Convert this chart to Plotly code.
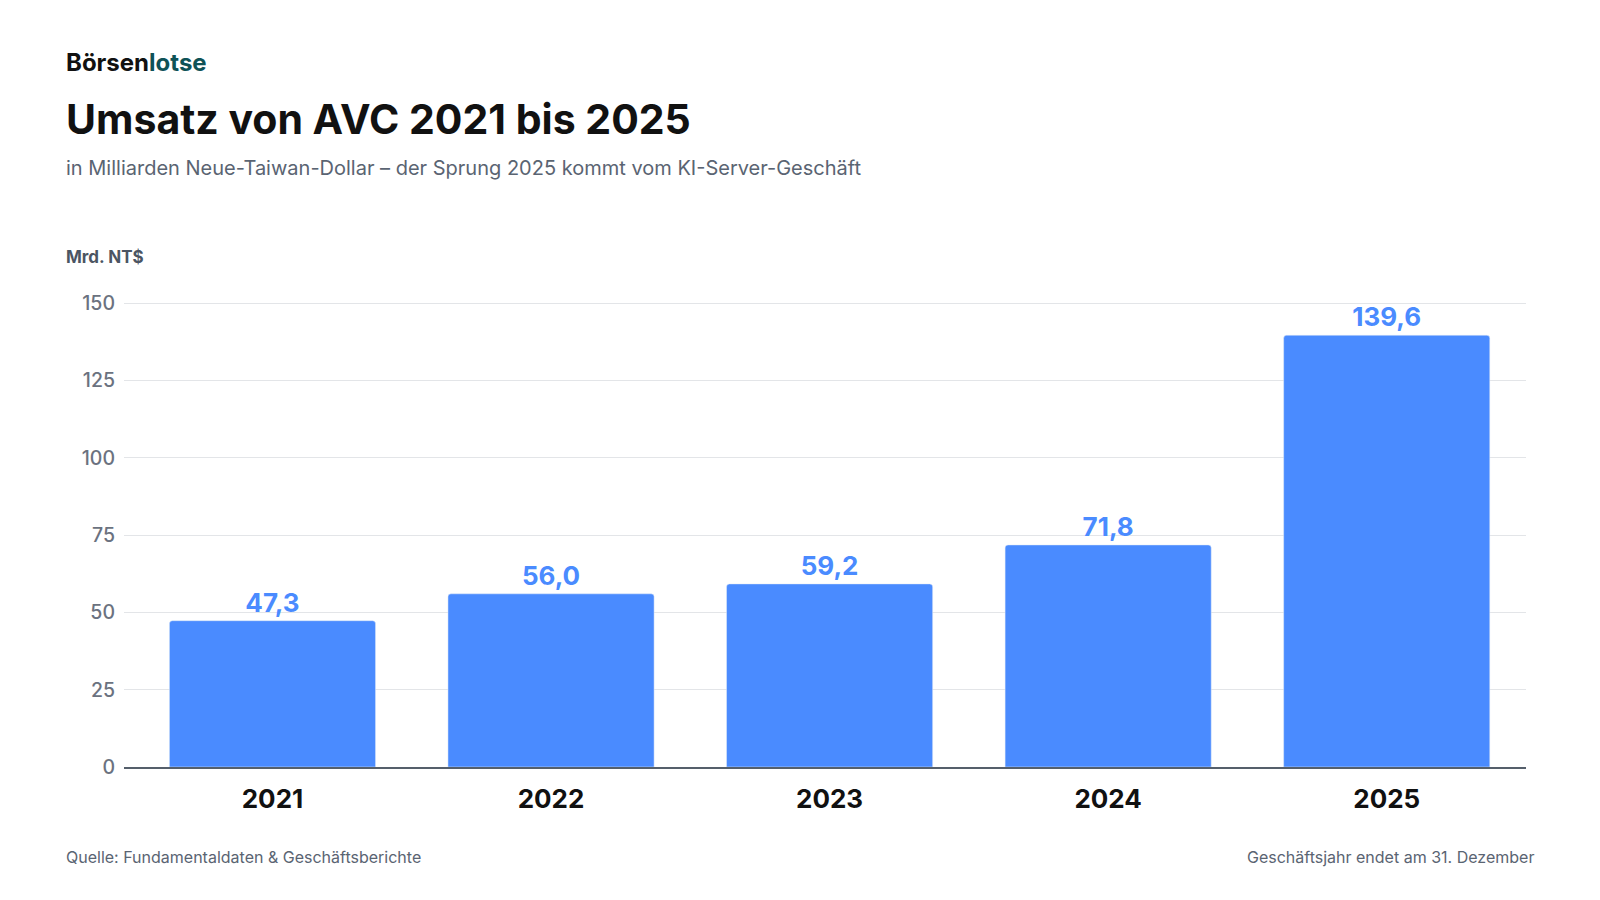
import plotly.graph_objects as go

years = ["2021", "2022", "2023", "2024", "2025"]
revenue = [47.3, 56.0, 59.2, 71.8, 139.6]
labels = ["47,3", "56,0", "59,2", "71,8", "139,6"]
yticks = [0, 25, 50, 75, 100, 125, 150]

S = 1 / 0.98
blue = "#4a8bff"
fig = go.Figure(go.Bar(
    x=years, y=revenue, marker=dict(color=blue, cornerradius=3), text=labels,
    textposition="outside", cliponaxis=False,
    textfont=dict(family="Inter", size=26, color=blue, weight="bold"),
))
T, B, L, R = 294 * S, 752 * S, 122 * S, 1495 * S
Y150 = 297 * S
fig.update_layout(
    width=1600, height=900, plot_bgcolor="white", paper_bgcolor="white",
    margin=dict(l=L, r=1600 - R, t=T, b=900 - B), bargap=0.26, showlegend=False,
    font=dict(family="Inter"),
    xaxis=dict(tickfont=dict(size=26, color="#111111", weight="bold"), ticks="",
               range=[-0.533, 4.5], ticklabelstandoff=8,
               showline=True, linecolor="#555f6b", linewidth=1.5),
    yaxis=dict(range=[0, 150 * (B - T) / (B - Y150)], tickvals=yticks, gridcolor="#e3e5e8",
               tickfont=dict(size=19.5, color="#6b7280", weight=500), zeroline=False, ticklabelstandoff=8),
)
def pann(px, py, text, size, color, bold=False, xanchor="left"):
    x = (px * S - L) / (R - L)
    y = (B - py * S) / (B - T)
    fig.add_annotation(x=x, y=y, xref="paper", yref="paper", text=text, showarrow=False,
                       xanchor=xanchor, yanchor="middle",
                       font=dict(family="Inter", size=size, color=color, weight="bold" if bold else "normal"))
pann(63, 61, "Börsen<span style='color:#0f5257'>lotse</span>", 24, "#111111", True)
pann(63, 116, "Umsatz von AVC 2021 bis 2025", 41, "#111111", True)
pann(63, 165, "in Milliarden Neue-Taiwan-Dollar – der Sprung 2025 kommt vom KI-Server-Geschäft", 20, "#5a6472")
pann(63, 252, "Mrd. NT$", 17, "#4b5563", True)
pann(63, 840, "Quelle: Fundamentaldaten & Geschäftsberichte", 16, "#5a6472")
pann(1505, 840, "Geschäftsjahr endet am 31. Dezember", 16, "#5a6472", xanchor="right")
fig.write_html("out.html", config={"displayModeBar": False},
               post_script="document.body.style.margin='0';document.body.style.overflow='hidden';")
